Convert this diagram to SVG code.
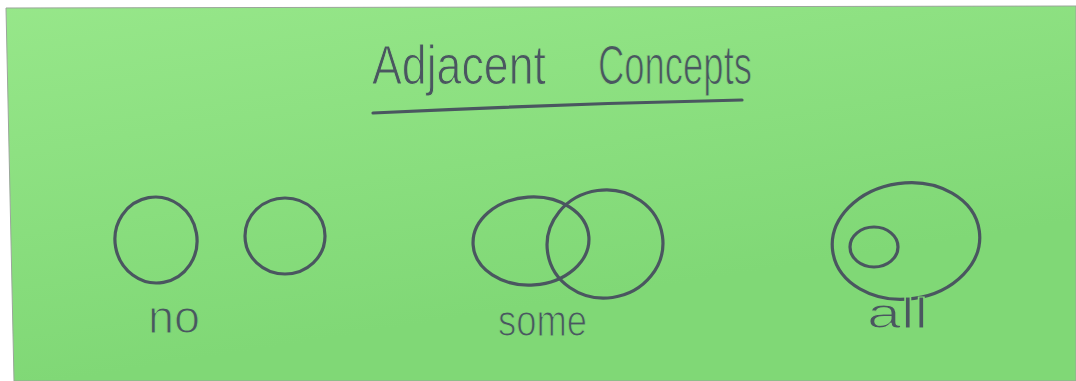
<svg xmlns="http://www.w3.org/2000/svg" width="1076" height="381" viewBox="0 0 1076 381">
  <defs>
    <linearGradient id="paper" gradientUnits="userSpaceOnUse" x1="0" y1="0" x2="60" y2="381">
      <stop offset="0" stop-color="#97e78a"/>
      <stop offset="1" stop-color="#80d876"/>
    </linearGradient>
    <style>
      .ink { fill: none; stroke: #4a5660; stroke-width: 3.2; stroke-linecap: round; stroke-linejoin: round; }
      .hand { fill: #4a5660; stroke: url(#paper); stroke-width: 1.1; font-family: "Liberation Sans", Arial, sans-serif; }
    </style>
  </defs>
  <rect x="0" y="0" width="1076" height="381" fill="#ffffff"/>
  <polygon points="6,8 1076,6 1076,381 14,381" fill="url(#paper)" stroke="#9aa69a" stroke-width="1"/>

  <g id="title">
    <text class="hand" font-size="56" y="84">
      <tspan x="372" textLength="174" lengthAdjust="spacingAndGlyphs">Adjacent</tspan>
      <tspan x="598" textLength="154" lengthAdjust="spacingAndGlyphs">Concepts</tspan>
    </text>
    <path class="ink" d="M373,113 Q560,104 742,100"/>
  </g>

  <g id="no">
    <ellipse class="ink" cx="156" cy="240" rx="41" ry="43" transform="rotate(-10 156 240)"/>
    <ellipse class="ink" cx="285" cy="236" rx="40" ry="38"/>
    <text class="hand" font-size="46" x="148" y="333" textLength="52" lengthAdjust="spacingAndGlyphs">no</text>
  </g>

  <g id="some">
    <ellipse class="ink" cx="531" cy="241" rx="58" ry="44" transform="rotate(-4 531 241)"/>
    <ellipse class="ink" cx="605" cy="244" rx="58" ry="54" transform="rotate(-8 605 244)"/>
    <text class="hand" font-size="44" x="498" y="336" textLength="89" lengthAdjust="spacingAndGlyphs">some</text>
  </g>

  <g id="all">
    <ellipse class="ink" cx="906" cy="241" rx="74" ry="58" transform="rotate(-8 906 241)"/>
    <ellipse class="ink" cx="874" cy="247" rx="24" ry="20"/>
    <text class="hand" font-size="42" x="867" y="328" textLength="61" lengthAdjust="spacingAndGlyphs">all</text>
  </g>

  <g id="connectors"/>
</svg>
